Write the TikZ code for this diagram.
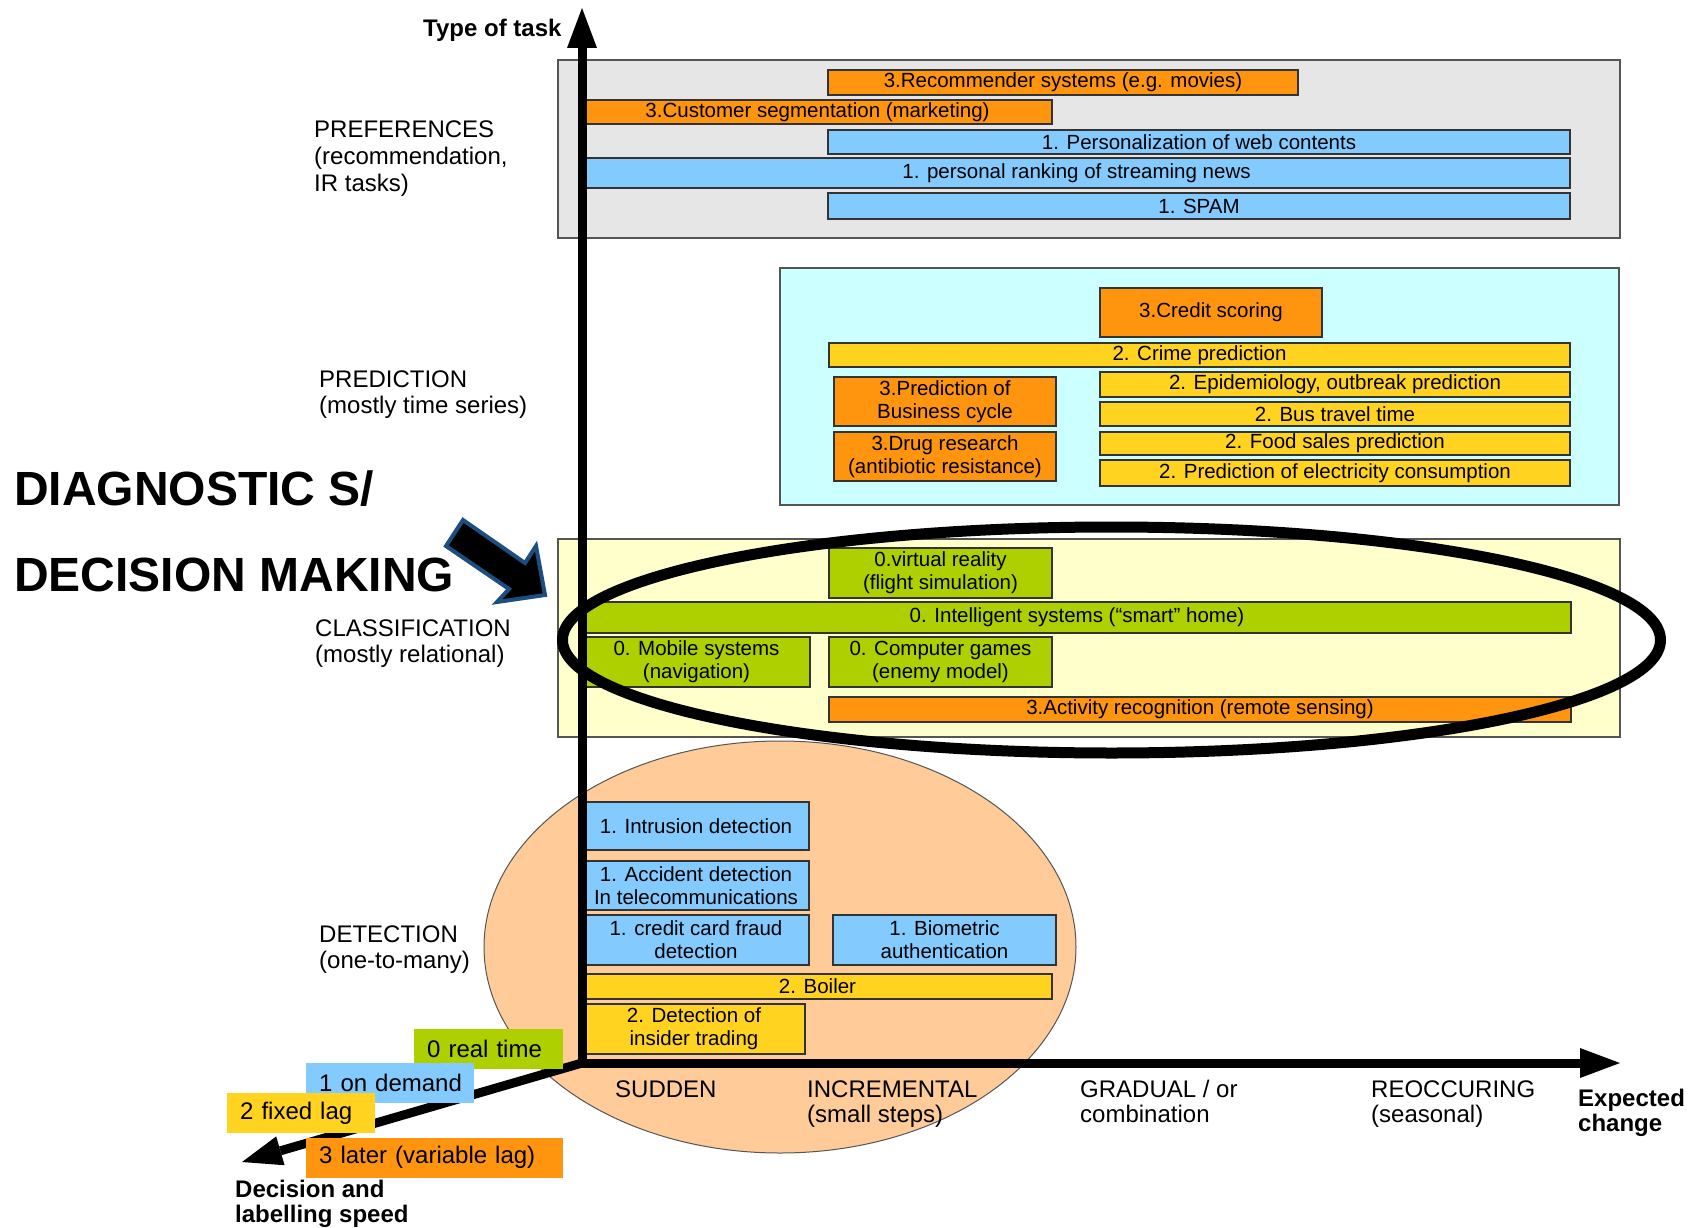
\documentclass[tikz,border=0pt]{standalone}
\usepackage{fontspec}
\setmainfont{Liberation Sans}
\usetikzlibrary{arrows.meta}

\definecolor{taskorange}{RGB}{255,149,14}
\definecolor{taskblue}{RGB}{131,202,255}
\definecolor{taskyellow}{RGB}{255,211,32}
\definecolor{taskgreen}{RGB}{174,207,0}
\definecolor{prefbg}{RGB}{230,230,230}
\definecolor{predbg}{RGB}{204,255,255}
\definecolor{classbg}{RGB}{255,255,204}
\definecolor{detectbg}{RGB}{255,204,153}
\definecolor{boxrim}{RGB}{51,51,51}
\definecolor{regionrim}{RGB}{85,85,85}
\definecolor{arrowrim}{RGB}{28,78,128}

\newcommand\taskfont{\fontsize{20.5}{23}\selectfont}
\newcommand\axisfont{\fontsize{24}{27}\selectfont}
\newcommand\headfont{\fontsize{24}{27}\selectfont\bfseries}
\newcommand\shoutfont{\fontsize{48}{54}\selectfont\bfseries}

% box from (x1,y1) to (x2,y2), label centred
\newcommand\taskbox[8][task]{%
  \node[#1,fill=#3,minimum width={(#6-#4)*1pt},minimum height={(#7-#5)*1pt}]
    (#2) at ({(#4+#6)/2},{(#5+#7)/2}) {#8};}

% speed scale entry: west edge at (x,y), given width, text indented
\newcommand\speedentry[5]{%
  \node[speed,fill=#2,text width=#4pt] (#1) at #3 {\hspace*{13pt}\mbox{#5}};}

\begin{document}
\begin{tikzpicture}[x=1pt,y=-1pt,
  task/.style={draw=boxrim,line width=1.5pt,inner sep=0pt,align=center,font=\taskfont},
  region/.style={draw=regionrim,line width=1.8pt,inner sep=0pt},
  speed/.style={inner sep=0pt,align=left,font=\axisfont,anchor=west,minimum height=40pt},
  axislabel/.style={inner sep=0pt,anchor=base west,font=\axisfont},
  headlabel/.style={inner sep=0pt,anchor=base west,font=\headfont},
  axisline/.style={line width=9pt,-{Triangle[length=40pt,width=30pt,line width=0pt]}},
]
\path[use as bounding box,fill=white] (0,0) rectangle (1695,1228);

% category regions
\taskbox[region]{prefs}{prefbg}{558}{60}{1620}{238}{}
\taskbox[region]{pred}{predbg}{780}{268}{1619}{505}{}
\taskbox[region]{classif}{classbg}{558}{539}{1620}{737}{}
\draw[draw=regionrim,line width=1pt,fill=detectbg] (780,947) ellipse [x radius=296pt,y radius=206pt];

% preferences
\taskbox{rec}{taskorange}{828}{70}{1298}{95}{3.Recommender systems (e.g. movies)}
\taskbox{cust}{taskorange}{583}{100}{1052}{124}{3.Customer segmentation (marketing)}
\taskbox{pers}{taskblue}{828}{130}{1570}{154}{1. Personalization of web contents}
\taskbox{rank}{taskblue}{583}{158}{1570}{188}{1. personal ranking of streaming news}
\taskbox{spam}{taskblue}{828}{193}{1570}{219}{1. SPAM}

% prediction
\taskbox{credit}{taskorange}{1100}{288}{1322}{337}{3.Credit scoring}
\taskbox{crime}{taskyellow}{829}{343}{1570}{367}{2. Crime prediction}
\taskbox{business}{taskorange}{834}{377}{1056}{426}{3.Prediction of\\Business cycle}
\taskbox{drug}{taskorange}{834}{432}{1056}{481}{3.Drug research\\(antibiotic resistance)}
\taskbox{epi}{taskyellow}{1100}{372}{1570}{397}{2. Epidemiology, outbreak prediction}
\taskbox{bus}{taskyellow}{1100}{402}{1570}{426}{2. Bus travel time}
\taskbox{food}{taskyellow}{1100}{432}{1570}{455}{2. Food sales prediction}
\taskbox{elec}{taskyellow}{1100}{460}{1570}{486}{2. Prediction of electricity consumption}

% classification
\taskbox{vr}{taskgreen}{829}{548}{1052}{598}{0.virtual reality\\(flight simulation)}
\taskbox{intel}{taskgreen}{583}{602}{1571}{633}{0. Intelligent systems (“smart” home)}
\taskbox{mobile}{taskgreen}{583}{637}{810}{687}{0. Mobile systems\\(navigation)}
\taskbox{games}{taskgreen}{829}{637}{1052}{687}{0. Computer games\\(enemy model)}
\taskbox{activity}{taskorange}{829}{697}{1571}{722}{3.Activity recognition (remote sensing)}

% detection
\taskbox{intrusion}{taskblue}{583}{802}{809}{850}{1. Intrusion detection}
\taskbox{accident}{taskblue}{583}{861}{809}{910}{1. Accident detection\\In telecommunications}
\taskbox{fraud}{taskblue}{583}{915}{809}{965}{1. credit card fraud\\detection}
\taskbox{bio}{taskblue}{833}{915}{1056}{965}{1. Biometric\\authentication}
\taskbox{boiler}{taskyellow}{583}{974}{1052}{999}{2. Boiler}
\taskbox{insider}{taskyellow}{583}{1004}{805}{1054}{2. Detection of\\insider trading}

% axes
\coordinate (origin) at (582,1063);
\coordinate (ytip) at (582,8);
\coordinate (xtip) at (1620,1063);
\coordinate (ztip) at (242,1162);
\coordinate (ybase) at (582,1067.5);
\coordinate (xbase) at (577.5,1063);
\draw[axisline] (ybase) -- (ytip);
\draw[axisline] (xbase) -- (xtip);
\draw[axisline] (origin) -- (ztip);

% decision speed scale
\speedentry{realtime}{taskgreen}{(414,1049)}{149}{0 real time}
\speedentry{ondemand}{taskblue}{(306,1083)}{168}{1 on demand}
\speedentry{fixedlag}{taskyellow}{(227,1113)}{148}{2 fixed lag}
\speedentry{later}{taskorange}{(306,1157.5)}{257}{3 later (variable lag)}

% highlighted classification band
\draw[line width=11pt] (1111.5,640) ellipse [x radius=549pt,y radius=113pt];

% pointer to the band
\filldraw[draw=arrowrim,fill=black,line width=4pt,line join=miter]
  (463,520) -- (525,563) -- (536,546) -- (545,595) -- (497,602) -- (509,589) -- (446,546) -- cycle;

% axis titles
\node[headlabel] (ttask) at (423,37) {Type of task};
\node[headlabel] (texp1) at (1578,1106) {Expected};
\node[headlabel] (texp2) at (1578,1131) {change};
\node[headlabel] (tdec1) at (235,1197) {Decision and};
\node[headlabel] (tdec2) at (235,1222) {labelling speed};

% task categories
\node[axislabel] (lpref1) at (314,138) {PREFERENCES};
\node[axislabel] (lpref2) at (314,164.5) {(recommendation,};
\node[axislabel] (lpref3) at (314,191) {IR tasks)};
\node[axislabel] (lpred1) at (319,387) {PREDICTION};
\node[axislabel] (lpred2) at (319,413) {(mostly time series)};
\node[axislabel] (lcls1) at (315,636) {CLASSIFICATION};
\node[axislabel] (lcls2) at (315,662) {(mostly relational)};
\node[axislabel] (ldet1) at (319,942) {DETECTION};
\node[axislabel] (ldet2) at (319,968) {(one-to-many)};

\node[inner sep=0pt,anchor=base west,font=\shoutfont] (diag1) at (14,505) {DIAGNOSTIC S/};
\node[inner sep=0pt,anchor=base west,font=\shoutfont] (diag2) at (14,591) {DECISION MAKING};

% kinds of change
\node[axislabel] (csudden) at (615,1097) {SUDDEN};
\node[axislabel] (cincr1) at (807,1097) {INCREMENTAL};
\node[axislabel] (cincr2) at (807,1122) {(small steps)};
\node[axislabel] (cgrad1) at (1080,1097) {GRADUAL / or};
\node[axislabel] (cgrad2) at (1080,1122) {combination};
\node[axislabel] (creoc1) at (1371,1097) {REOCCURING};
\node[axislabel] (creoc2) at (1371,1122) {(seasonal)};
\end{tikzpicture}
\end{document}
